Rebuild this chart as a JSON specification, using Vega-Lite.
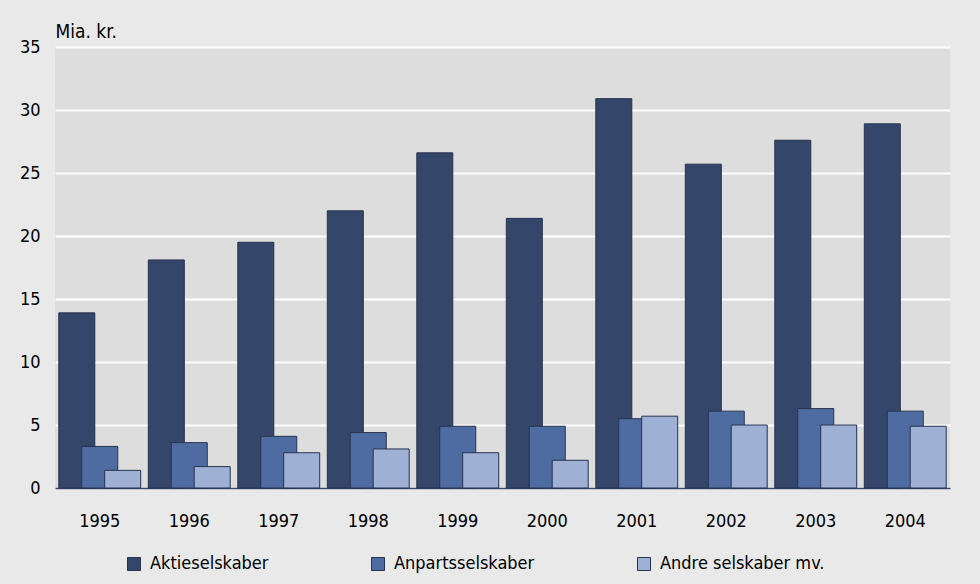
{
  "$schema": "https://vega.github.io/schema/vega-lite/v6.json",
  "width": 895,
  "height": 441,
  "autosize": {"type": "none"},
  "padding": {"left": 55, "top": 47, "right": 30, "bottom": 96},
  "background": "#e9e9e9",
  "config": {
    "font": "DejaVu Sans Condensed, sans-serif",
    "view": {"fill": "#dddddd", "stroke": null}
  },
  "data": {
    "values": [
      {"year": "1995", "series": "Aktieselskaber", "value": 13.9},
      {"year": "1996", "series": "Aktieselskaber", "value": 18.1},
      {"year": "1997", "series": "Aktieselskaber", "value": 19.5},
      {"year": "1998", "series": "Aktieselskaber", "value": 22.0},
      {"year": "1999", "series": "Aktieselskaber", "value": 26.6},
      {"year": "2000", "series": "Aktieselskaber", "value": 21.4},
      {"year": "2001", "series": "Aktieselskaber", "value": 30.9},
      {"year": "2002", "series": "Aktieselskaber", "value": 25.7},
      {"year": "2003", "series": "Aktieselskaber", "value": 27.6},
      {"year": "2004", "series": "Aktieselskaber", "value": 28.9},
      {"year": "1995", "series": "Anpartsselskaber", "value": 3.3},
      {"year": "1996", "series": "Anpartsselskaber", "value": 3.6},
      {"year": "1997", "series": "Anpartsselskaber", "value": 4.1},
      {"year": "1998", "series": "Anpartsselskaber", "value": 4.4},
      {"year": "1999", "series": "Anpartsselskaber", "value": 4.9},
      {"year": "2000", "series": "Anpartsselskaber", "value": 4.9},
      {"year": "2001", "series": "Anpartsselskaber", "value": 5.5},
      {"year": "2002", "series": "Anpartsselskaber", "value": 6.1},
      {"year": "2003", "series": "Anpartsselskaber", "value": 6.3},
      {"year": "2004", "series": "Anpartsselskaber", "value": 6.1},
      {"year": "1995", "series": "Andre selskaber mv.", "value": 1.4},
      {"year": "1996", "series": "Andre selskaber mv.", "value": 1.7},
      {"year": "1997", "series": "Andre selskaber mv.", "value": 2.8},
      {"year": "1998", "series": "Andre selskaber mv.", "value": 3.1},
      {"year": "1999", "series": "Andre selskaber mv.", "value": 2.8},
      {"year": "2000", "series": "Andre selskaber mv.", "value": 2.2},
      {"year": "2001", "series": "Andre selskaber mv.", "value": 5.7},
      {"year": "2002", "series": "Andre selskaber mv.", "value": 5.0},
      {"year": "2003", "series": "Andre selskaber mv.", "value": 5.0},
      {"year": "2004", "series": "Andre selskaber mv.", "value": 4.9}
    ]
  },
  "mark": {"type": "bar", "width": 36, "stroke": "#27334f", "strokeWidth": 1},
  "encoding": {
    "x": {
      "field": "year",
      "type": "ordinal",
      "scale": {"paddingInner": 0, "paddingOuter": 0},
      "axis": {
        "title": null,
        "labelAngle": 0,
        "labelFontSize": 18,
        "labelColor": "#000000",
        "ticks": false,
        "tickSize": 0,
        "labelPadding": 24,
        "labelBaseline": "top",
        "domainColor": "#34466a",
        "domainWidth": 1.5
      }
    },
    "xOffset": {
      "field": "series",
      "type": "nominal",
      "sort": ["Aktieselskaber", "Anpartsselskaber", "Andre selskaber mv."],
      "scale": {"paddingInner": 0, "paddingOuter": 0.45}
    },
    "y": {
      "field": "value",
      "type": "quantitative",
      "scale": {"domain": [0, 35], "nice": false},
      "axis": {
        "title": "Mia. kr.",
        "titleAngle": 0,
        "titleAlign": "left",
        "titleBaseline": "alphabetic",
        "titleX": 0,
        "titleY": -10,
        "titleFontSize": 19,
        "titleFontWeight": "normal",
        "titleColor": "#000000",
        "values": [0, 5, 10, 15, 20, 25, 30, 35],
        "labelFontSize": 18,
        "labelColor": "#000000",
        "labelPadding": 15,
        "ticks": false,
        "domain": false,
        "grid": true,
        "gridColor": "#ffffff",
        "gridWidth": 2,
        "gridOpacity": 1
      }
    },
    "color": {
      "field": "series",
      "type": "nominal",
      "sort": ["Aktieselskaber", "Anpartsselskaber", "Andre selskaber mv."],
      "scale": {
        "domain": ["Aktieselskaber", "Anpartsselskaber", "Andre selskaber mv."],
        "range": ["#34466a", "#4e6ca2", "#9eb0d4"]
      },
      "legend": {
        "title": null,
        "orient": "none",
        "legendX": 70,
        "legendY": 508,
        "direction": "horizontal",
        "columns": 3,
        "columnPadding": 100,
        "padding": 0,
        "symbolType": "square",
        "symbolSize": 169,
        "symbolStrokeColor": "#27334f",
        "symbolStrokeWidth": 1,
        "symbolOpacity": 1,
        "labelFontSize": 18,
        "labelColor": "#000000",
        "labelOffset": 7,
        "labelLimit": 300
      }
    }
  }
}
